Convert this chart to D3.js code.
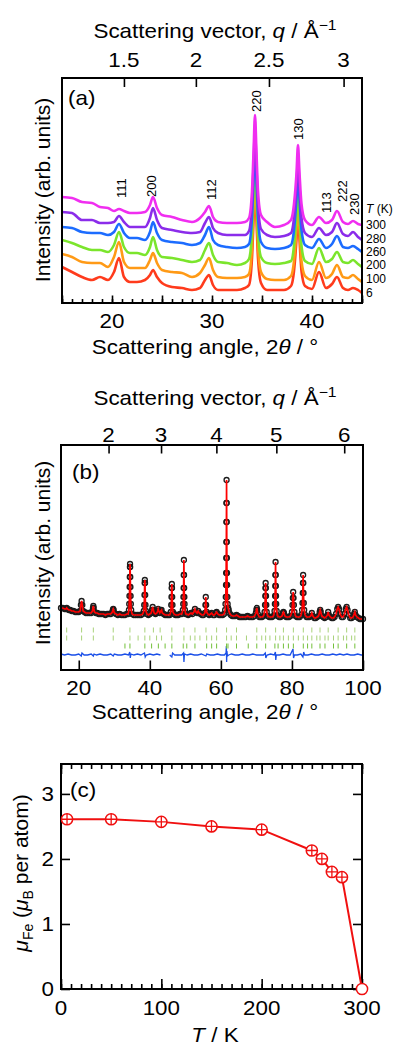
<!DOCTYPE html>
<html lang="en">
<head>
  <meta charset="UTF-8">
  <title>Diffraction patterns and Fe moment</title>
  <script src="https://d3js.org/d3.v7.min.js"></script>
  <style>
    body { margin: 0; background: #fff; }
    svg { display: block; font-family: "Liberation Sans", Arial, Helvetica, sans-serif; }
  </style>
</head>
<body>
  <div id="fig"></div>
  <script>
    // ---------- (a) patterns at several temperatures (stacked, arb. units) ----------
    const tthA = [15,16,17,18,18.8,19.6,20.2,20.7,21.2,21.8, 22.5,23.3,23.8,24.1,24.5,25,26,27,28,28.8,
      29.3,29.7,30.1,30.6,31.5,32.5,33.3,33.7,34.0,34.15, 34.3,34.45,34.6,34.9,35.5,36.3,37.2,37.9,38.2,38.45,
      38.6,38.75,38.95,39.3,40.0,40.7,41.4,42.0,42.5,43.1, 43.6,44.1,44.6,45];
    const I300 = [106,105,101,100,96,95,92,94,92,90, 90,91,98,106,95,88,86,83,81,85, 91,97,86,81,80,80,81,85,112,150,
      188,150,112,88,81,76,78,83,99,130, 158,130,99,83,78,86,80,83,92,81, 79,82,79,78];
    const I280 = [91,90,83,83,80,80,81,87,81,76, 76,76,85,95,83,75,73,71,70,71, 80,86,75,70,68,68,68,72,99,136,
      173,136,99,74,68,66,67,70,85,117, 144,117,85,70,66,75,68,71,80,69, 67,71,66,63];
    const I260 = [76,75,71,70,70,68,71,79,70,65, 65,63,71,81,70,63,61,60,58,60, 68,76,63,58,56,55,56,59,86,123,
      160,123,86,61,55,54,55,58,73,105, 132,105,73,58,55,64,55,59,67,56, 55,57,54,51];
    const I200 = [63,60,56,53,53,51,58,71,56,50, 50,48,56,66,53,46,45,43,41,43, 53,60,48,41,40,38,40,44,71,108,
      145,108,71,46,40,39,40,42,57,89, 116,89,57,42,39,55,41,44,51,41, 40,43,39,36];
    const I100 = [49,46,41,40,40,36,46,61,41,35, 35,35,43,50,40,33,31,30,26,30, 38,45,33,26,25,25,26,29,56,93,
      130,93,56,31,24,23,23,27,42,74, 101,74,42,27,23,41,25,29,38,26, 25,28,24,21];
    const I6 = [36,31,26,23,26,23,31,45,26,21, 21,23,28,33,26,20,16,15,13,15, 23,28,18,13,13,13,15,18,45,82,
      119,82,45,20,13,13,13,17,32,64, 91,64,32,17,14,31,15,19,26,15, 13,15,13,10];

    const tempsA = ["6", "100", "200", "260", "280", "300"];
    const seriesA = [I6, I100, I200, I260, I280, I300];
    const colorsA = ["#ff3b1c", "#ff9a16", "#7be52c", "#1c6cff", "#8b2cea", "#f02ef0"];
    const tempLevelA = [10, 24, 38, 51, 64, 78];   // where each temperature is written at the right edge

    const hklA = ["111", "200", "112", "220", "130", "113", "222", "230"];
    const hklTth = [20.9, 23.9, 29.9, 34.45, 38.6, 41.4, 43.0, 44.2];
    const hklBase = [105, 106, 103, 191, 163, 90, 101, 88];

    const qTicksA = [1.5, 2, 2.5, 3];
    const tthTicksA = [20, 30, 40];

    // ---------- (b) Rietveld refinement ----------
    const obsB = [
      [15,62],[15.5,62],[16,61],[16.4,61],[16.6,62],[16.8,61],[17.2,60],[17.6,60],[18,59],[18.5,59],[19,58],[19.5,58],
      [20,58],[20.4,59],[20.6,65],[20.8,69],[21.0,65],[21.2,59],[21.6,58],[22,57],[22.5,57],[23,57],[23.5,57],
      [23.85,59],[24.0,62],[24.1,64],[24.2,62],[24.4,58],[24.8,57],[25.2,57],[25.6,56],[26,56],[26.5,56],[27,56],
      [27.5,55],[28,56],[28.5,56],[29,56],[29.45,58],[29.6,60],[29.7,61],[29.8,60],[30,57],[30.5,56],[31,55],
      [31.5,56],[32,55],[32.5,55],[33,55],[33.5,56],[33.9,56],[34.12,60],[34.2,66],[34.27,74],[34.32,83],[34.36,93],
      [34.4,103],[34.43,106],[34.47,103],[34.5,93],[34.54,83],[34.59,74],[34.66,66],[34.75,60],[35,56],[35.5,55],
      [36,55],[36.5,55],[37,55],[37.5,55],[38,56],[38.3,59],[38.42,65],[38.5,75],[38.55,87],[38.6,90],[38.65,87],
      [38.7,75],[38.78,65],[38.9,59],[39.2,56],[39.6,55],[40,56],[40.4,57],[40.6,60],[40.8,63],[41,60],[41.2,57],
      [41.6,56],[42,57],[42.2,59],[42.35,61],[42.5,59],[42.8,57],[43.1,59],[43.3,60],[43.5,57],[43.9,56],[44.3,55],
      [44.8,55],[45.2,55],[45.6,55],[45.9,58],[46.03,65],[46.1,73],[46.16,82],[46.2,86],[46.24,82],[46.3,73],
      [46.37,65],[46.5,58],[46.8,56],[47.2,55],[47.6,55],[48,55],[48.5,56],[49,56],[49.3,60],[49.4,66],[49.46,73],
      [49.51,82],[49.55,95],[49.59,110],[49.63,95],[49.67,82],[49.72,73],[49.78,66],[49.88,60],[50.1,56],[50.4,56],
      [50.8,55],[51.2,56],[51.6,57],[52,56],[52.4,58],[52.7,61],[53,58],[53.3,57],[53.6,59],[53.9,57],[54.3,56],
      [54.7,55],[55.1,55],[55.5,57],[55.65,65],[55.75,73],[55.85,65],[56.0,58],[56.3,56],[56.7,55],[57.1,56],
      [57.4,57],[57.8,55],[58.2,55],[58.6,57],[58.8,58],[59.1,56],[59.5,55],[60,55],[60.5,55],[60.9,56],[61.2,60],
      [61.3,66],[61.38,73],[61.44,85],[61.48,97],[61.51,112],[61.54,128],[61.56,148],[61.58,167],[61.6,190],
      [61.62,167],[61.64,148],[61.66,128],[61.69,112],[61.72,97],[61.76,85],[61.82,73],[61.9,66],[62.05,62],
      [62.2,60],[62.4,57],[62.8,55],[63.2,54],[63.6,54],[64,54],[64.4,55],[64.8,54],[65.2,53],[65.6,53],[66,53],
      [66.5,53],[67,53],[67.5,54],[68,53],[68.5,53],[69,53],[69.5,54],[69.85,57],[70.0,60],[70.1,62],[70.2,60],
      [70.4,56],[70.8,53],[71.2,53],[71.6,53],[72,54],[72.3,58],[72.42,65],[72.5,74],[72.55,82],[72.6,87],
      [72.65,82],[72.7,74],[72.78,65],[72.9,58],[73.2,54],[73.6,53],[74,53],[74.4,53],[74.8,54],[75.1,59],
      [75.2,66],[75.26,74],[75.31,84],[75.35,95],[75.39,108],[75.43,95],[75.47,84],[75.52,74],[75.58,66],[75.7,59],
      [76,54],[76.4,53],[76.8,53],[77.2,54],[77.45,57],[77.6,58],[77.75,57],[78,54],[78.4,53],[78.8,53],[79.2,53],
      [79.6,54],[80.0,58],[80.15,65],[80.25,72],[80.35,78],[80.45,72],[80.55,65],[80.7,58],[81,54],[81.4,53],
      [81.8,53],[82.2,53],[82.6,55],[82.85,60],[82.97,67],[83.05,77],[83.1,87],[83.15,95],[83.2,87],[83.26,77],
      [83.33,67],[83.45,60],[83.7,55],[84.1,53],[84.5,53],[84.9,53],[85.3,54],[85.6,57],[85.9,54],[86.3,52],
      [86.7,52],[87.1,53],[87.5,54],[87.8,58],[87.95,60],[88.1,58],[88.4,54],[88.8,53],[89.2,52],[89.6,53],[90,55],
      [90.2,58],[90.4,55],[90.8,53],[91.2,52],[91.6,52],[92,53],[92.4,56],[92.75,61],[93.0,63],[93.25,61],[93.6,56],
      [94,53],[94.4,53],[94.8,56],[95.15,61],[95.4,63],[95.65,60],[96,55],[96.4,52],[96.8,52],[97.2,53],[97.5,56],
      [97.7,58],[97.9,55],[98.3,53],[98.7,52],[99.1,51],[99.5,51],[100,51]
    ];
    const diffB1 = [[15,16],[16,15],[17,16],[18,15],[19,15],[20,16],[20.7,14],[20.9,17],[21.5,15],[22.5,15],[23.5,16],
      [24.1,14],[24.3,16],[25,15],[26,16],[27,15],[28,15],[29,16],[29.7,14],[30,16],[31,15],[32,15],[33,16],[34,15],
      [34.35,18],[34.5,12],[34.7,16],[35.5,15],[36.5,16],[37.5,15],[38.5,17],[38.7,13],[39,15],[40,16],[41,15],
      [42,16],[43,15]];
    const diffB2 = [[45.6,15],[46.2,13],[46.4,17],[47,15],[48,15],[49,15],[49.5,17],[49.6,8],[49.75,16],[50.5,15],
      [51.5,16],[52.5,15],[53.5,15],[54.5,16],[55.8,14],[56,16],[57,15],[58,15],[59,16],[60,15],[61,15],[61.45,17],
      [61.55,24],[61.62,8],[61.7,19],[61.85,14],[62.2,15],[63,16],[64,15],[65,15],[66,16],[67,15],[68,15],[69,16],
      [70,15],[71,15],[72,15],[72.5,17],[72.65,12],[73,15],[74,16],[75,15],[75.35,18],[75.45,10],[75.6,15],
      [76.5,15],[77.5,16],[78.5,15],[79.5,15],[80.3,21],[80.45,12],[80.7,15],[81.5,15],[82.5,16],[83.1,13],
      [83.3,18],[83.6,15],[84.5,15],[85.5,16],[86.5,15],[87.5,15],[88.5,16],[89.5,15],[90.5,15],[91.5,16],
      [92.5,15],[93.5,16],[94.5,15],[95.5,16],[96.5,15],[97.5,15],[98.5,16],[99.5,15],[100,15]];
    const braggB1 = [16.6,20.8,24.1,29.7,34.4,38.6,41.0,42.9,46.2,49.6,52.7,55.8,58.8,61.6,64.4,70.1,72.6,75.4,
      77.6,80.4,83.2,85.6,87.9,90.2,93.0,95.4,97.7];
    const braggB2 = [16.6,20.8,24.1,29.7,34.4,36.7,38.6,40.0,41.9,43.3,46.2,49.6,51.4,52.7,54.1,56.0,57.4,58.8,
      61.6,62.9,64.4,67.2,70.1,71.5,72.6,73.8,75.4,76.6,77.6,79.0,80.4,81.8,83.2,84.4,85.6,87.0,87.9,89.3,90.2,
      91.7,93.0,94.5,95.4,96.8,97.7];
    const braggB3 = [33.0,34.4,38.6,40.5,42.4,44.3,46.2,49.4,50.4,52.7,56.0,57.4,58.8,61.6,62.0,64.4,67.7,70.1,
      72.6,75.2,76.1,77.6,79.0,80.4,83.2,84.4,85.6,87.9,89.3,91.7,93.0,95.4,97.7];

    const qTicksB = [2, 3, 4, 5, 6];
    const tthTicksB = [20, 40, 60, 80, 100];

    // ---------- (c) ordered Fe moment ----------
    const tempC = [6, 50, 100, 150, 200, 250, 260, 270, 280, 300];
    const muC = [2.61, 2.61, 2.57, 2.50, 2.45, 2.13, 2.00, 1.80, 1.72, 0];
    const tTicksC = [0, 100, 200, 300];
    const muTicksC = [0, 1, 2, 3];

    // Cu K-alpha wavelength for the q axes
    const lambda = 1.5406;
    const qToTth = q => 2 * Math.asin(q * lambda / (4 * Math.PI)) * 180 / Math.PI;

    const svg = d3.select("#fig").append("svg").attr("width", 395).attr("height", 1045);
    const SX = 1.12;   // the figure's lettering is a little wide

    function label(x, y, anchor, size) {
      return svg.append("g").attr("transform", `translate(${x},${y}) scale(${SX},1)`)
        .append("text").attr("text-anchor", anchor).attr("font-size", size);
    }

    function ticks(axis, x, y) {
      svg.append("g").attr("transform", `translate(${x},${y})`).call(axis)
        .call(g => g.select(".domain").remove())
        .call(g => g.selectAll("line").attr("stroke", "#000").attr("stroke-width", 1.6));
    }

    function frame(x0, y0, x1, y1) {
      svg.append("rect").attr("x", x0).attr("y", y0).attr("width", x1 - x0).attr("height", y1 - y0)
        .attr("fill", "none").attr("stroke", "#000").attr("stroke-width", 2);
    }

    function scatteringAngleTitle(x, y) {
      const t = label(x, y, "middle", 20);
      t.append("tspan").text("Scattering angle, 2");
      t.append("tspan").attr("font-style", "italic").text("θ");
      t.append("tspan").text(" / °");
    }

    function qTitle(x, y) {
      const t = label(x, y, "middle", 20);
      t.append("tspan").text("Scattering vector, ");
      t.append("tspan").attr("font-style", "italic").text("q");
      t.append("tspan").text(" / Å");
      t.append("tspan").attr("font-size", 14).attr("dy", -8).text("−1");
    }

    function yTitle(x, y, str) {
      svg.append("text").attr("transform", `translate(${x},${y}) rotate(-90)`)
        .attr("text-anchor", "middle").attr("font-size", 21).text(str);
    }

    // ================= panel (a) =================
    const xA = d3.scaleLinear().domain([15, 45]).range([62, 362]);
    const yA = d3.scaleLinear().domain([0, 225]).range([303, 78]);

    svg.append("clipPath").attr("id", "clipA").append("rect")
      .attr("x", 62).attr("y", 78).attr("width", 300).attr("height", 225);

    const lineA = d3.line().x((d, i) => xA(tthA[i])).y(d => yA(d)).curve(d3.curveMonotoneX);
    const gA = svg.append("g").attr("clip-path", "url(#clipA)");
    seriesA.forEach((s, k) => {
      gA.append("path").datum(s).attr("d", lineA).attr("fill", "none")
        .attr("stroke", colorsA[k]).attr("stroke-width", 2.6).attr("stroke-linejoin", "round");
    });

    ticks(d3.axisBottom(xA).tickValues(d3.range(15, 46, 1)).tickSize(-4).tickFormat(""), 0, 303);
    ticks(d3.axisBottom(xA).tickValues(d3.range(15, 46, 5)).tickSize(-7.5).tickFormat(""), 0, 303);
    ticks(d3.axisTop(xA).tickValues(qTicksA.map(qToTth)).tickSize(-9).tickFormat(""), 0, 78);
    frame(62, 78, 362, 303);

    tthTicksA.forEach(v => label(xA(v), 328, "middle", 20).text(v));
    qTicksA.forEach(q => label(xA(qToTth(q)), 67, "middle", 20).text(q));
    qTitle(215, 38);
    scatteringAngleTitle(205, 354);
    yTitle(50, 190, "Intensity (arb. units)");
    label(68, 105, "start", 20).text("(a)");

    hklA.forEach((h, i) => {
      svg.append("text").attr("transform", `translate(${xA(hklTth[i])},${yA(hklBase[i])}) rotate(-90)`)
        .attr("dy", "0.35em").attr("font-size", 13).text(h);
    });

    tempsA.forEach((t, k) => {
      svg.append("text").attr("x", 366).attr("y", yA(tempLevelA[k])).attr("dy", "0.35em")
        .attr("font-size", 12).text(t);
    });
    const tk = svg.append("text").attr("x", 366).attr("y", 213).attr("font-size", 12);
    tk.append("tspan").attr("font-style", "italic").text("T");
    tk.append("tspan").text(" (K)");

    // ================= panel (b) =================
    const xB = d3.scaleLinear().domain([15, 100]).range([61, 363]);
    const yB = d3.scaleLinear().domain([0, 225]).range([670, 445]);

    const gB = svg.append("g");
    gB.selectAll("circle.obs").data(obsB).enter().append("circle").attr("class", "obs")
      .attr("cx", d => xB(d[0])).attr("cy", d => yB(d[1])).attr("r", 2.5)
      .attr("fill", "none").attr("stroke", "#1c1c1c").attr("stroke-width", 1.3);

    const lineB = d3.line().x(d => xB(d[0])).y(d => yB(d[1]));
    gB.append("path").datum(obsB).attr("d", lineB).attr("fill", "none")
      .attr("stroke", "#ff0000").attr("stroke-width", 1.7);

    [diffB1, diffB2].forEach(seg => {
      gB.append("path").datum(seg).attr("d", lineB).attr("fill", "none")
        .attr("stroke", "#1a4fe8").attr("stroke-width", 1.3);
    });

    [[braggB1, 40, "#a9d27a"], [braggB2, 32, "#a9d27a"], [braggB3, 24, "#73c03a"]].forEach(([rows, lvl, col]) => {
      gB.selectAll(null).data(rows).enter().append("line")
        .attr("x1", d => xB(d)).attr("x2", d => xB(d))
        .attr("y1", yB(lvl) - 2.5).attr("y2", yB(lvl) + 2.5)
        .attr("stroke", col).attr("stroke-width", 1);
    });

    ticks(d3.axisBottom(xB).tickValues(tthTicksB).tickSize(-9.5).tickFormat(""), 0, 670);
    ticks(d3.axisTop(xB).tickValues(qTicksB.map(qToTth)).tickSize(-8.5).tickFormat(""), 0, 445);
    frame(61, 445, 363, 670);

    tthTicksB.forEach(v => label(xB(v), 695, "middle", 20).text(v));
    qTicksB.forEach(q => label(xB(qToTth(q)), 442, "middle", 20).text(q));
    qTitle(215, 405);
    scatteringAngleTitle(205, 719);
    yTitle(50, 553, "Intensity (arb. units)");
    label(72, 479, "start", 20).text("(b)");

    // ================= panel (c) =================
    const xC = d3.scaleLinear().domain([0, 300]).range([61, 362]);
    const yC = d3.scaleLinear().domain([0, 3.46]).range([989, 764]);

    ticks(d3.axisBottom(xC).tickValues(d3.range(0, 301, 10)).tickSize(-5).tickFormat(""), 0, 989);
    ticks(d3.axisBottom(xC).tickValues(tTicksC).tickSize(-10).tickFormat(""), 0, 989);
    ticks(d3.axisTop(xC).tickValues(d3.range(0, 301, 10)).tickSize(-5).tickFormat(""), 0, 764);
    ticks(d3.axisTop(xC).tickValues(tTicksC).tickSize(-10).tickFormat(""), 0, 764);
    ticks(d3.axisLeft(yC).tickValues(muTicksC).tickSize(-9).tickFormat(""), 61, 0);
    ticks(d3.axisRight(yC).tickValues(muTicksC).tickSize(-9).tickFormat(""), 362, 0);
    frame(61, 764, 362, 989);

    const ptsC = tempC.map((t, i) => [t, muC[i]]);
    svg.append("path").datum(ptsC)
      .attr("d", d3.line().x(d => xC(d[0])).y(d => yC(d[1])))
      .attr("fill", "none").attr("stroke", "#f01010").attr("stroke-width", 2);
    const r = 5.6;
    const mk = svg.selectAll("g.mk").data(ptsC).enter().append("g").attr("class", "mk")
      .attr("transform", d => `translate(${xC(d[0])},${yC(d[1])})`);
    mk.append("circle").attr("r", r).attr("fill", "#fff").attr("stroke", "#f01010").attr("stroke-width", 1.5);
    mk.filter(d => d[1] > 0).append("path").attr("d", `M${-r},0H${r}M0,${-r}V${r}`)
      .attr("stroke", "#f01010").attr("stroke-width", 1.3);

    tTicksC.forEach(v => label(xC(v), 1015, "middle", 20).text(v));
    muTicksC.forEach(v => label(54, yC(v), "end", 20).attr("dy", "0.35em").text(v));
    const tt = label(215, 1042, "middle", 20);
    tt.append("tspan").attr("font-style", "italic").text("T");
    tt.append("tspan").text(" / K");

    const yt = svg.append("text").attr("transform", "translate(28,873) rotate(-90)")
      .attr("text-anchor", "middle").attr("font-size", 21);
    yt.append("tspan").attr("font-style", "italic").text("μ");
    yt.append("tspan").attr("font-size", 14).attr("dy", 5).text("Fe");
    yt.append("tspan").attr("dy", -5).text(" (");
    yt.append("tspan").attr("font-style", "italic").text("μ");
    yt.append("tspan").attr("font-size", 14).attr("dy", 5).text("B");
    yt.append("tspan").attr("dy", -5).text(" per atom)");
    label(70, 797, "start", 20).text("(c)");
  </script>
</body>
</html>
